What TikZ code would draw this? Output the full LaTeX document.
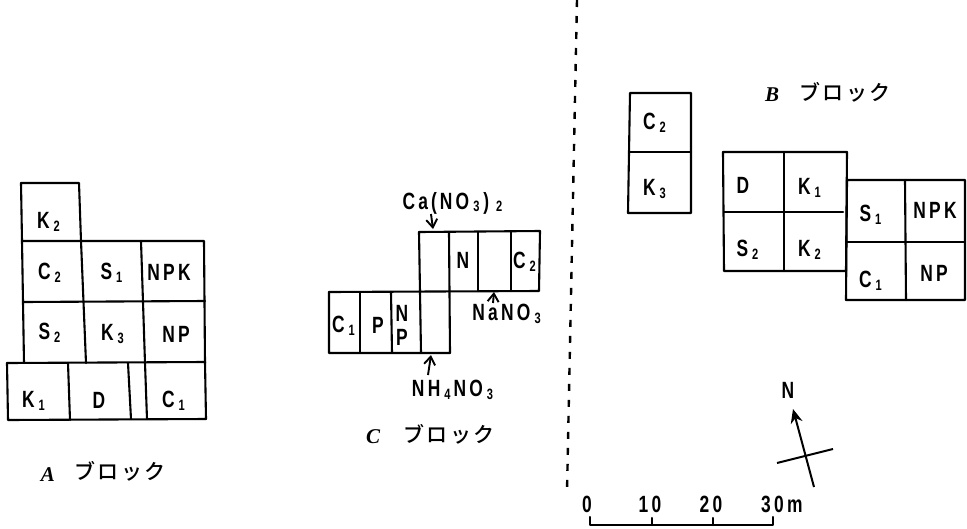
\documentclass[tikz,border=0pt]{standalone}
\usepackage{fontspec}
\usetikzlibrary{arrows.meta}
\newfontfamily\labfont[FakeStretch=0.74,LetterSpace=14]{Liberation Sans}
\newfontfamily\kanafont[LetterSpace=10]{Noto Sans CJK JP Medium}
\newfontfamily\blockfont{Liberation Serif}
\newcommand{\subx}[1]{\kern4pt\raisebox{-2.5pt}{\fontsize{15}{15}\selectfont #1}\kern3pt}
\tikzset{
  plot/.style={line width=2.1pt,line cap=round,line join=round,black},
  lab/.style={inner sep=0pt,font=\labfont\bfseries\fontsize{23.5}{25}\selectfont,text=black},
  kana/.style={inner sep=0pt,font=\kanafont\fontsize{21}{23}\selectfont,text=black},
  blk/.style={inner sep=0pt,font=\blockfont\itshape\bfseries\fontsize{21}{23}\selectfont,text=black},
  thinarrow/.style={line width=1.9pt,-{Straight Barb[length=8pt,width=11pt]}}
}
\begin{document}
\begin{tikzpicture}[x=1pt,y=-1pt]
\useasboundingbox (0,0) rectangle (967,528);
% A block
\draw[plot] (22,241) -- (21,183) -- (79,183) -- (81,241);
\draw[plot] (22,241) -- (204,241) -- (205,363);
\draw[plot] (22,241) -- (24,363);
\draw[plot] (23,302) -- (205,301);
\draw[plot] (7,363) -- (205,362);
\draw[plot] (7,363) -- (8,420) -- (206,419) -- (205,362);
\draw[plot] (81,241) -- (86,363);
\draw[plot] (141,241) -- (145,363) -- (147,419);
\draw[plot] (68,363) -- (70,420);
\draw[plot] (128,363) -- (131,419);
\node[lab] (a1) at (50,222) {K\subx{2}};
\node[lab] (a2) at (51,273) {C\subx{2}};
\node[lab] (a3) at (113,273) {S\subx{1}};
\node[lab] (a4) at (169,272) {NPK};
\node[lab] (a5) at (51,333) {S\subx{2}};
\node[lab] (a6) at (114,334) {K\subx{3}};
\node[lab] (a7) at (176,334) {NP};
\node[lab] (a8) at (35,401) {K\subx{1}};
\node[lab] (a9) at (99,400) {D};
\node[lab] (a10) at (175,401) {C\subx{1}};
\node[blk] (a11) at (48,475) {A};
\node[kana] (a12) at (120,471) {ブロック};
% C block
\draw[plot] (420,292) -- (419,232) -- (540,231) -- (539,291) -- (329,292);
\draw[plot] (329,292) -- (329,353) -- (450,353) -- (449,232);
\draw[plot] (360,292) -- (360,353);
\draw[plot] (391,292) -- (392,353);
\draw[plot] (420,292) -- (421,353);
\draw[plot] (478,232) -- (478,291);
\draw[plot] (511,232) -- (511,291);
\node[lab] (c1) at (345,326) {C\subx{1}};
\node[lab] (c2) at (378,325) {P};
\node[lab] (c3) at (402,313) {N};
\node[lab] (c4) at (402,337) {P};
\node[lab] (c5) at (463,260) {N};
\node[lab] (c6) at (526,262) {C\subx{2}};
\node[lab] (c7) at (454,203) {Ca\kern3pt(\kern3pt NO\subx{3}\kern1pt)\kern3pt\subx{2}};
\node[lab] (c8) at (508,314) {NaNO\subx{3}};
\node[lab] (c9) at (454,390) {NH\subx{4}NO\subx{3}};
\node[blk] (c10) at (373,437) {C};
\node[kana] (c11) at (449,434) {ブロック};
\coordinate (ca) at (431,214);
\coordinate (cb) at (433,229);
\draw[thinarrow] (ca) -- (cb);
\coordinate (na) at (493,303);
\coordinate (nb) at (494,292);
\draw[thinarrow] (na) -- (nb);
\coordinate (ha) at (428,375);
\coordinate (hb) at (431,355);
\draw[thinarrow] (ha) -- (hb);
% B block
\draw[plot] (630,93) -- (691,93) -- (691,213) -- (628,213) -- cycle;
\draw[plot] (630,152) -- (691,152);
\draw[plot] (723,152) -- (847,152) -- (846,271) -- (724,271) -- cycle;
\draw[plot] (724,212) -- (843,212);
\draw[plot] (784,152) -- (784,271);
\draw[plot] (847,180) -- (965,180) -- (965,300) -- (846,300) -- cycle;
\draw[plot] (846,242) -- (965,242);
\draw[plot] (905,180) -- (906,300);
\node[lab] (b1) at (656,123) {C\subx{2}};
\node[lab] (b2) at (656,189) {K\subx{3}};
\node[lab] (b3) at (743,185) {D};
\node[lab] (b4) at (811,188) {K\subx{1}};
\node[lab] (b5) at (749,250) {S\subx{2}};
\node[lab] (b6) at (811,250) {K\subx{2}};
\node[lab] (b7) at (872,215) {S\subx{1}};
\node[lab] (b8) at (935,210) {NPK};
\node[lab] (b9) at (872,281) {C\subx{1}};
\node[lab] (b10) at (934,273) {NP};
\node[blk] (b11) at (772,95) {B};
\node[kana] (b12) at (845,92) {ブロック};
% divider
\coordinate (d1) at (577,0);
\coordinate (d2) at (567,492);
\draw[line width=2.4pt,dash pattern=on 7pt off 9pt] (d1) -- (d2);
% scale
\node[lab] (s0) at (587,504) {0};
\node[lab] (s1) at (650,504) {10};
\node[lab] (s2) at (711,504) {20};
\node[lab,anchor=west] (s3) at (761,504) {30m};
\coordinate (sa) at (590,517);
\coordinate (sb) at (773,517);
\draw[plot] (sa) -- (590,525) -- (773,525) -- (sb);
\draw[plot] (652,518) -- (652,525);
\draw[plot] (713,518) -- (713,525);
% north arrow
\node[lab] (north) at (788,390) {N};
\coordinate (na1) at (814,487);
\coordinate (na2) at (793,409);
\coordinate (nc1) at (777,463);
\coordinate (nc2) at (833,449);
\draw[line width=2pt,-{Stealth[length=14pt,width=12pt]}] (na1) -- (na2);
\draw[line width=2pt] (nc1) -- (nc2);
\end{tikzpicture}
\end{document}
